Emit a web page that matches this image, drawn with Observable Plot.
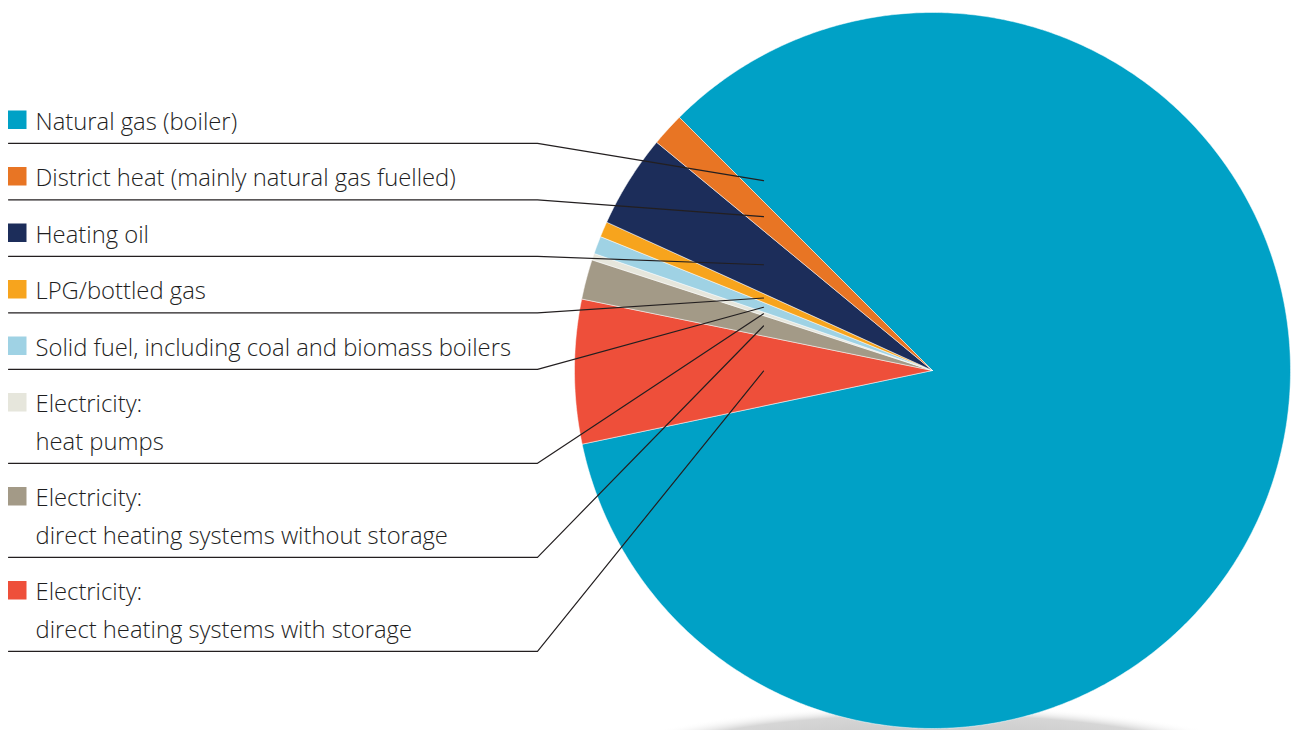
<!DOCTYPE html>
<html>
<head>
<meta charset="utf-8">
<script src="https://cdn.jsdelivr.net/npm/d3@7"></script>
<script src="https://cdn.jsdelivr.net/npm/@observablehq/plot@0.6"></script>
<style>
  html, body { margin: 0; padding: 0; background: #fff; }
  #chart svg { display: block; }
</style>
</head>
<body>
<div id="chart"></div>
<script>
// Heating systems by main fuel (share of households, %)
const categories = [
  "Natural gas (boiler)",
  "District heat (mainly natural gas fuelled)",
  "Heating oil",
  "LPG/bottled gas",
  "Solid fuel, including coal and biomass boilers",
  "Electricity: heat pumps",
  "Electricity: direct heating systems without storage",
  "Electricity: direct heating systems with storage"
];
const legendLines = [
  ["Natural gas (boiler)"],
  ["District heat (mainly natural gas fuelled)"],
  ["Heating oil"],
  ["LPG/bottled gas"],
  ["Solid fuel, including coal and biomass boilers"],
  ["Electricity:", "heat pumps"],
  ["Electricity:", "direct heating systems without storage"],
  ["Electricity:", "direct heating systems with storage"]
];
const shares = [84.2, 1.5, 4.2, 0.7, 0.8, 0.3, 1.8, 6.5];
const colors = ["#00a1c6", "#e87524", "#1c2d5a", "#f7a41d", "#9fd2e4", "#e6e6dc", "#a39a87", "#ee4f3a"];

// ---- layout (pixels) ----
const W = 1294, H = 730;
const CX = 932, CY = 370, R = 358;           // pie centre and radius
const FONT = 23.8;
const textX = 35, swatchX = 8, swatchSize = 18.5;
const ruleX0 = 8, ruleX1 = 537, leaderX = 763;
const firstBaseline = 129, rowGap = 56.5, lineGap = 37.5, ruleOffset = 13.8;

// pixel -> data space of the x/y scales
const dx = px => (px - CX) / R;
const dy = py => (CY - py) / R;

const rows = categories.map((name, i) => ({name, share: shares[i], lines: legendLines[i]}));

// Pie: natural gas first, the others follow clockwise in reverse legend order
const pieOrder = [rows[0], ...rows.slice(1).reverse()];
const start = -Math.PI / 4;
const arcs = d3.pie().sort(null).value(d => d.share)
  .startAngle(start).endAngle(start + 2 * Math.PI)(pieOrder);

// slice outlines in data space (angles clockwise from 12 o'clock)
const slicePoints = [];
for (const a of arcs) {
  const name = a.data.name;
  slicePoints.push({name, x: 0, y: 0});
  const n = Math.max(2, Math.ceil((a.endAngle - a.startAngle) / (Math.PI / 360)));
  for (let k = 0; k <= n; ++k) {
    const t = a.startAngle + (a.endAngle - a.startAngle) * k / n;
    slicePoints.push({name, x: Math.sin(t), y: Math.cos(t)});
  }
  slicePoints.push({name, x: 0, y: 0});
}
const arcByName = new Map(arcs.map(a => [a.data.name, a]));

// legend layout
const legendText = [], swatches = [], leaders = [];
let baseline = firstBaseline;
rows.forEach((row, i) => {
  row.lines.forEach((line, j) => {
    legendText.push({text: line, x: dx(textX), y: dy(baseline + j * lineGap - 0.32 * FONT)});
  });
  swatches.push({name: row.name, x1: dx(swatchX), x2: dx(swatchX + swatchSize),
                 y1: dy(baseline - swatchSize), y2: dy(baseline)});
  const ruleY = baseline + (row.lines.length - 1) * lineGap + ruleOffset;
  // leader target: a point inside the slice on the vertical x = leaderX
  const a = arcByName.get(row.name);
  const ang = i === 0 ? a.startAngle + 0.058 : (a.startAngle + a.endAngle) / 2;
  const tx = dx(leaderX);
  const ty = tx / Math.sin(ang) * Math.cos(ang);
  leaders.push({name: row.name, x: dx(ruleX0), y: dy(ruleY)});
  leaders.push({name: row.name, x: dx(ruleX1), y: dy(ruleY)});
  leaders.push({name: row.name, x: tx, y: ty});
  baseline += rowGap + (row.lines.length - 1) * lineGap;
});

// soft ground shadow beneath the disc
function groundShadow(index, scales) {
  const cx = scales.x(0), cy = scales.y(0), r = scales.x(1) - cx;
  const g = d3.create("svg:g");
  const grad = g.append("defs").append("radialGradient").attr("id", "pie-shadow");
  grad.append("stop").attr("offset", "0%").attr("stop-color", "#b8b8b8");
  grad.append("stop").attr("offset", "84%").attr("stop-color", "#d6d6d6");
  grad.append("stop").attr("offset", "100%").attr("stop-color", "#ffffff").attr("stop-opacity", 0);
  g.append("ellipse")
    .attr("cx", cx).attr("cy", cy + r + 38)
    .attr("rx", r * 0.95).attr("ry", r * 0.17)
    .attr("fill", "url(#pie-shadow)");
  return g.node();
}

const chart = Plot.plot({
  width: W, height: H,
  margin: 0,
  x: {domain: [-1, 1], range: [CX - R, CX + R], axis: null},
  y: {domain: [-1, 1], range: [CY + R, CY - R], axis: null},
  color: {domain: categories, range: colors},
  style: {fontFamily: "'Open Sans', Lato, sans-serif", background: "#fff"},
  marks: [
    groundShadow,
    Plot.line(slicePoints, {x: "x", y: "y", z: "name", fill: "name",
      stroke: "#ffffff", strokeWidth: 0.5, curve: "linear"}),
    Plot.line(leaders, {x: "x", y: "y", z: "name", stroke: "#231f20", strokeWidth: 1.2, curve: "linear"}),
    Plot.rect(swatches, {x1: "x1", x2: "x2", y1: "y1", y2: "y2", fill: "name"}),
    Plot.text(legendText, {x: "x", y: "y", text: "text", textAnchor: "start",
      fontSize: FONT, fontWeight: 300, fill: "#1e1e1e"})
  ]
});
document.getElementById("chart").appendChild(chart);
</script>
</body>
</html>
